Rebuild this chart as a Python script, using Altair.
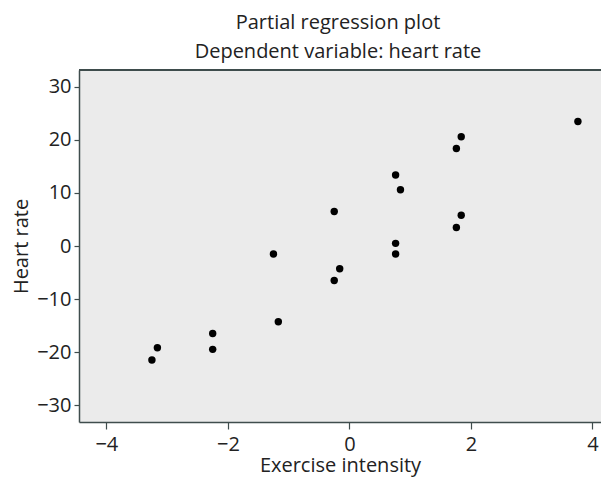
import altair as alt
import pandas as pd

exercise_intensity = [3.76, 1.84, 1.76, 0.76, 0.84, -0.25, 1.84, 1.76, 0.76, 0.76,
                      -1.25, -0.16, -0.25, -1.17, -2.25, -2.25, -3.16, -3.25]
heart_rate = [23.5, 20.6, 18.4, 13.4, 10.6, 6.5, 5.8, 3.5, 0.5, -1.5,
              -1.5, -4.3, -6.5, -14.3, -16.5, -19.5, -19.2, -21.5]

x_ticks = [-4, -2, 0, 2, 4]
y_ticks = [-30, -20, -10, 0, 10, 20, 30]

df = pd.DataFrame({"x": exercise_intensity, "y": heart_rate})

FONT = "Open Sans"
AXIS_COLOR = "#3f4d4d"
TEXT_COLOR = "#222222"
W, H = 522, 352

points = alt.Chart(df).mark_circle(size=55, color="black", opacity=1).encode(
    x=alt.X("x:Q", title="Exercise intensity",
            scale=alt.Scale(domain=[-4.45, 4.14], nice=False, zero=False),
            axis=alt.Axis(values=x_ticks, grid=False, tickSize=7, labelPadding=5,
                          titlePadding=1)),
    y=alt.Y("y:Q", title="Heart rate",
            scale=alt.Scale(domain=[-33.2, 33.2], nice=False, zero=False),
            axis=alt.Axis(values=y_ticks, grid=False, tickSize=5, labelPadding=3,
                          titlePadding=5)),
)

top_border = alt.Chart(df).mark_rule(color=AXIS_COLOR, strokeWidth=1.5).encode(
    x=alt.value(0), x2=alt.value(W), y=alt.value(0)
)

chart = alt.layer(top_border, points).properties(
    width=W, height=H,
    autosize=alt.AutoSizeParams(type="none"),
    padding={"left": 71, "top": 62, "right": 0, "bottom": 55},
    title=alt.Title(["Partial regression plot", "Dependent variable: heart rate"],
                    font=FONT, fontSize=20, fontWeight="normal", color=TEXT_COLOR,
                    lineHeight=29, anchor="middle", offset=7, dx=-2),
).configure_view(
    fill="#ebebeb", stroke=None, strokeWidth=0
).configure_axis(
    domainColor=AXIS_COLOR, domainWidth=1.5, tickColor=AXIS_COLOR, tickWidth=1.2,
    labelFont=FONT, labelFontSize=20, labelColor=TEXT_COLOR,
    titleFont=FONT, titleFontSize=20, titleFontWeight="normal", titleColor=TEXT_COLOR,
)

chart.save("out.html", embed_options={"renderer": "svg", "actions": False})
